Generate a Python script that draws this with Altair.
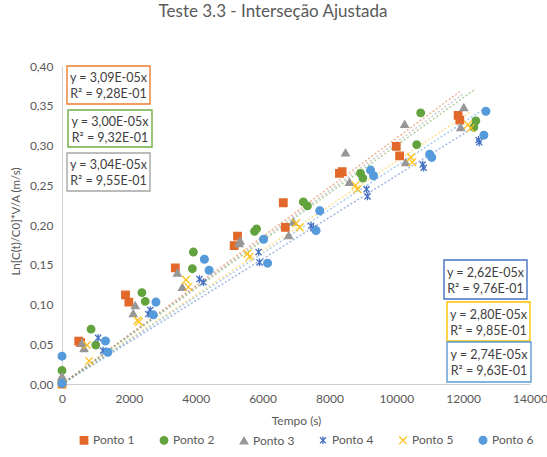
import altair as alt
import pandas as pd

# ---- series definitions -------------------------------------------------
series = ["Ponto 1", "Ponto 2", "Ponto 3", "Ponto 4", "Ponto 5", "Ponto 6"]
marker_colors = ["#E2692A", "#62A33E", "#979797", "#4570C4", "#FDC11C", "#559BDB"]
box_colors = ["#ED7D31", "#70AD47", "#A5A5A5", "#4472C4", "#FFC000", "#5B9BD5"]

# fitted slopes (regression through the origin) and R² per series
slopes = [3.09e-5, 3.00e-5, 3.04e-5, 2.62e-5, 2.80e-5, 2.74e-5]
r2 = [0.928, 0.932, 0.955, 0.976, 0.985, 0.963]

# ---- measurements: time (s) and Ln[C(t)/C0]*V/A (m/s) -------------------
t_p1 = [0, 500, 560, 1900, 2000, 3390, 5150, 5250, 6620, 6680, 8300, 8380,
        10000, 10100, 11850, 11900]
v_p1 = [0.000, 0.054, 0.052, 0.112, 0.103, 0.146, 0.174, 0.186, 0.228, 0.197,
        0.265, 0.267, 0.299, 0.287, 0.338, 0.332]

t_p2 = [0, 0, 870, 1010, 2390, 2490, 3900, 3930, 5760, 5820, 7220, 7340,
        8930, 9000, 10610, 10730, 12320, 12380]
v_p2 = [0.017, 0.002, 0.069, 0.049, 0.115, 0.104, 0.145, 0.166, 0.192, 0.195,
        0.229, 0.224, 0.265, 0.259, 0.301, 0.341, 0.323, 0.331]

t_p3 = [0, 0, 600, 660, 2130, 2190, 3450, 3600, 5300, 5330, 6780, 6920,
        8480, 8600, 10250, 10280, 11930, 12020]
v_p3 = [0.010, 0.004, 0.052, 0.045, 0.089, 0.099, 0.140, 0.122, 0.177, 0.180,
        0.187, 0.204, 0.291, 0.254, 0.327, 0.279, 0.323, 0.348]

t_p4 = [0, 1080, 1230, 2580, 2640, 4110, 4230, 5880, 5910, 7450, 7520,
        9110, 9140, 10790, 10820, 12460, 12480]
v_p4 = [0.000, 0.058, 0.042, 0.088, 0.093, 0.132, 0.128, 0.166, 0.153, 0.199,
        0.196, 0.245, 0.236, 0.276, 0.272, 0.307, 0.304]

t_p5 = [0, 750, 810, 2260, 2300, 3710, 3780, 5550, 5610, 7000, 7110,
        8780, 8840, 10440, 10480, 12140, 12230]
v_p5 = [0.000, 0.049, 0.029, 0.080, 0.078, 0.131, 0.122, 0.164, 0.160, 0.202,
        0.197, 0.250, 0.245, 0.285, 0.279, 0.326, 0.322]

t_p6 = [0, 0, 1300, 1370, 2730, 2810, 4260, 4400, 6030, 6150, 7600, 7710,
        9230, 9320, 11000, 11060, 12620, 12680]
v_p6 = [0.035, 0.001, 0.054, 0.040, 0.087, 0.103, 0.157, 0.143, 0.182, 0.152,
        0.193, 0.218, 0.269, 0.262, 0.289, 0.285, 0.313, 0.343]

times = [t_p1, t_p2, t_p3, t_p4, t_p5, t_p6]
values = [v_p1, v_p2, v_p3, v_p4, v_p5, v_p6]

FONT = "Lato"
TXT = "#595959"

# ---- tables ---------------------------------------------------------------
pts = pd.DataFrame(
    [(s, t, v) for s, ts, vs in zip(series, times, values) for t, v in zip(ts, vs)],
    columns=["serie", "t", "v"],
)

# marker shapes: square, circle, triangle, asterisk, cross, circle
asterisk = "M0,-1L0,1M-0.8,-0.8L0.8,0.8M-0.8,0.8L0.8,-0.8"
xcross = "M-1,-1L1,1M-1,1L1,-1"
shapes = ["square", "circle", "triangle-up", asterisk, xcross, "circle"]
sizes = [56, 60, 95, 130, 130, 60]

x_scale = alt.Scale(domain=[0, 14000], nice=False, zero=True)
y_scale = alt.Scale(domain=[0, 0.40], nice=False, zero=True)

x_axis = alt.Axis(
    values=list(range(0, 14001, 2000)), format="d", grid=False, ticks=False,
    labelFlush=False, labelPadding=9, labelFont=FONT, labelFontSize=12,
    labelColor=TXT, domainColor="#D0D0D0", title="Tempo  (s)", titleFont=FONT,
    titleFontSize=12, titleColor=TXT, titleFontWeight="normal", titlePadding=11,
)
y_axis = alt.Axis(
    values=[i * 0.05 for i in range(9)], grid=False, ticks=False,
    labelExpr="replace(format(datum.value, '.2f'), '.', ',')",
    labelPadding=9, labelFont=FONT, labelFontSize=12, labelColor=TXT,
    domainColor="#D0D0D0", title="Ln[C(t)/C0]*V/A  (m/s)", titleFont=FONT,
    titleFontSize=11.5, titleColor=TXT, titleFontWeight="normal",
    titleX=-46, titleY=155, titleBaseline="middle", titleAngle=270,
)

# ---- dotted trendlines y = k*t, one layer per series -----------------------
trend_layers = []
for s, ts, k, col in zip(series, times, slopes, marker_colors):
    tmax = max(ts)
    seg = pd.DataFrame({"t": [0.0, tmax], "v": [0.0, k * tmax]})
    trend_layers.append(
        alt.Chart(seg).mark_line(
            color=col, strokeWidth=1.5, strokeDash=[2, 2], opacity=0.5
        ).encode(
            x=alt.X("t:Q", scale=x_scale, axis=x_axis),
            y=alt.Y("v:Q", scale=y_scale, axis=y_axis),
        )
    )

legend_props = dict(
    title=None, orient="none", legendX=16, legendY=368, direction="horizontal",
    columns=6, columnPadding=22, symbolSize=32, symbolStrokeWidth=1.3,
    labelFont=FONT, labelFontSize=12, labelColor=TXT, labelOffset=3,
)

points = alt.Chart(pts).mark_point(filled=True, strokeWidth=1.3, opacity=1).encode(
    x=alt.X("t:Q", scale=x_scale, axis=x_axis),
    y=alt.Y("v:Q", scale=y_scale, axis=y_axis),
    color=alt.Color("serie:N", scale=alt.Scale(domain=series, range=marker_colors),
                    legend=alt.Legend(**legend_props)),
    stroke=alt.Stroke("serie:N", scale=alt.Scale(domain=series, range=marker_colors),
                      legend=alt.Legend(**legend_props)),
    shape=alt.Shape("serie:N", scale=alt.Scale(domain=series, range=shapes),
                    legend=alt.Legend(**legend_props)),
    size=alt.Size("serie:N", scale=alt.Scale(domain=series, range=sizes), legend=None),
)

# ---- equation boxes (pixel frames inside the plot area) -------------------
frames = [
    (5, 88, 0, 38),
    (6, 90, 44, 81),
    (5, 88, 87, 125),
    (382, 465, 194, 233),
    (385, 468, 236, 275),
    (385, 469, 276, 316),
]


def fmt_sci(x):
    return f"{x:.2E}".replace(".", ",")


boxes = []
one = pd.DataFrame({"k": [0]})
for (x0, x1, y0, y1), col, k, r in zip(frames, box_colors, slopes, r2):
    boxes.append(
        alt.Chart(one).mark_rect(fill="white", stroke=col, strokeWidth=1.4).encode(
            x=alt.value(x0), x2=alt.value(x1), y=alt.value(y0), y2=alt.value(y1)
        )
    )
    label = f"y = {fmt_sci(k)}x\nR² = {fmt_sci(r)}"
    boxes.append(
        alt.Chart(one).mark_text(
            text=label, lineBreak="\n", font=FONT, fontSize=12.5, color="#404040",
            align="center", baseline="middle", lineHeight=16, dy=-8,
        ).encode(x=alt.value((x0 + x1) / 2), y=alt.value((y0 + y1) / 2 + 1))
    )

chart = alt.layer(*trend_layers, points, *boxes).properties(
    width=468,
    height=318,
    padding={"left": 62, "top": 66, "right": 17, "bottom": 73},
    autosize=alt.AutoSizeParams(type="none"),
    title=alt.TitleParams(
        "Teste 3.3 - Interseção Ajustada", font=FONT, fontSize=17,
        fontWeight="normal", color=TXT, anchor="middle", offset=39, dx=-23,
    ),
).configure_view(stroke=None)

chart.save("out.html", embed_options={"renderer": "svg", "actions": False})
